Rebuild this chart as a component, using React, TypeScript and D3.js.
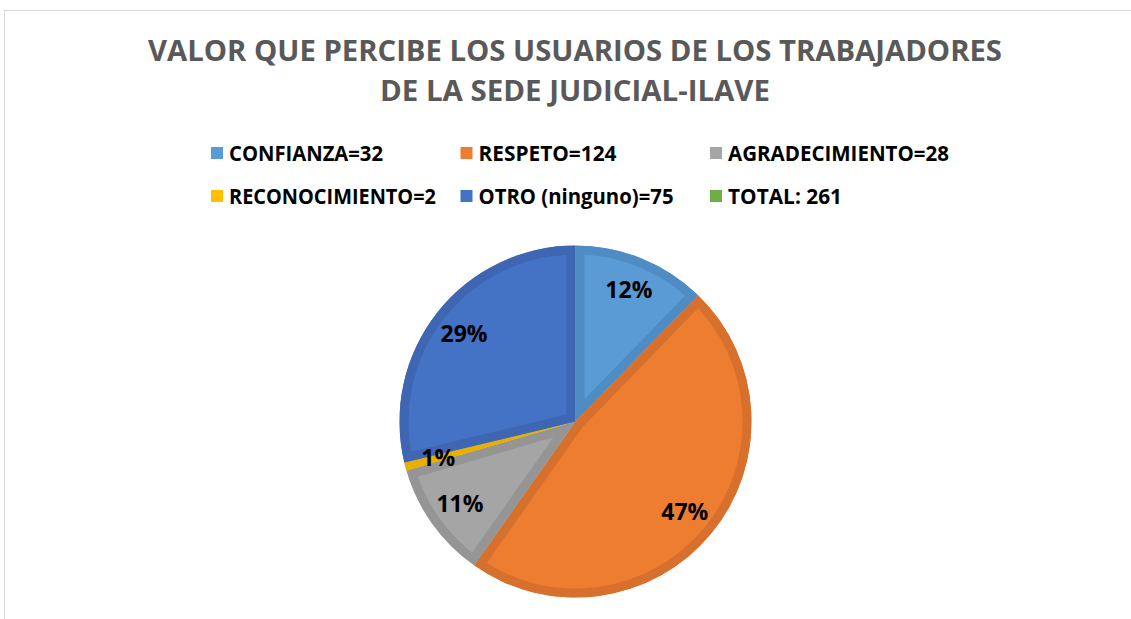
import React, { useEffect, useRef } from 'react';
import * as d3 from 'd3';

const titleLines = ['VALOR QUE PERCIBE LOS USUARIOS DE LOS TRABAJADORES', 'DE LA SEDE JUDICIAL-ILAVE'];
const categories = ['CONFIANZA', 'RESPETO', 'AGRADECIMIENTO', 'RECONOCIMIENTO', 'OTRO (ninguno)', 'TOTAL'];
const values = [32, 124, 28, 2, 75, 0];
const legendLabels = ['CONFIANZA=32', 'RESPETO=124', 'AGRADECIMIENTO=28', 'RECONOCIMIENTO=2', 'OTRO (ninguno)=75', 'TOTAL: 261'];
const fills = ['#5b9bd5', '#ed7d31', '#a5a5a5', '#ffc000', '#4472c4', '#70ad47'];
const borders = ['#4f8cc4', '#d8702d', '#959595', '#e8ae00', '#3e66b2', '#66a040'];

const W = 1131;
const H = 619;

// percentages rounded so they add up to 100 (largest remainder, like Excel)
const roundedPercents = (vals: number[]) => {
  const total = d3.sum(vals);
  const raw = vals.map((v) => (v / total) * 100);
  const out = raw.map(Math.floor);
  let left = 100 - d3.sum(out);
  const order = d3.range(vals.length).sort((a, b) => (raw[b] - out[b]) - (raw[a] - out[a]));
  for (const i of order) {
    if (left <= 0) break;
    if (vals[i] > 0) { out[i] += 1; left -= 1; }
  }
  return out;
};

const App = () => {
  const ref = useRef(null);

  useEffect(() => {
    const root = d3.select(ref.current);
    root.selectAll('*').remove();
    const svg = root
      .append('svg')
      .attr('width', W)
      .attr('height', H)
      .style('position', 'absolute')
      .style('left', 0)
      .style('top', 0)
      .style('font-family', '"Open Sans", sans-serif');

    svg.append('rect').attr('width', W).attr('height', H).attr('fill', '#fff');
    // chart frame (runs off the right and bottom)
    svg.append('rect')
      .attr('x', 4.5).attr('y', 10.5)
      .attr('width', W + 20).attr('height', H + 20)
      .attr('fill', 'none').attr('stroke', '#d9d9d9');

    // title
    const titleWidths = [854, 390];
    svg.selectAll('text.title')
      .data(titleLines)
      .enter()
      .append('text')
      .attr('class', 'title')
      .attr('x', 575)
      .attr('y', (d, i) => 61 + i * 40)
      .attr('text-anchor', 'middle')
      .attr('font-size', 29)
      .attr('font-weight', 700)
      .attr('fill', '#595959')
      .attr('textLength', (d, i) => titleWidths[i])
      .attr('lengthAdjust', 'spacingAndGlyphs')
      .text((d) => d);

    // legend
    const colX = d3.scaleLinear().domain([0, 2]).range([211, 710]);
    const rowY = d3.scaleLinear().domain([0, 1]).range([161, 204]);
    const legendWidths = [154, 138, 221, 207, 195, 114];
    const item = svg.selectAll('g.legend')
      .data(legendLabels)
      .enter()
      .append('g')
      .attr('class', 'legend')
      .attr('transform', (d, i) => `translate(${colX(i % 3)},${rowY(Math.floor(i / 3))})`);
    item.append('rect')
      .attr('x', 0).attr('y', -14)
      .attr('width', 12).attr('height', 12)
      .attr('fill', (d, i) => fills[i]);
    item.append('text')
      .attr('x', 18)
      .attr('font-size', 21)
      .attr('font-weight', 700)
      .attr('fill', '#000')
      .attr('textLength', (d, i) => legendWidths[i])
      .attr('lengthAdjust', 'spacingAndGlyphs')
      .text((d) => d);

    // pie
    const cx = 575.5;
    const cy = 421.5;
    const R = 176;
    const bw = 9;
    const pcts = roundedPercents(values);
    const pie = d3.pie<number>().sort(null).value((d) => d);
    const arcs = pie(values).map((a, i) => ({ ...a, i })).filter((a) => a.value > 0);
    const arc = d3.arc<any>().innerRadius(0).outerRadius(R);
    const labelArc = d3.arc<any>().innerRadius(142).outerRadius(142);

    const g = svg.append('g').attr('transform', `translate(${cx},${cy})`);
    const defs = svg.append('defs');
    arcs.forEach((a) => {
      defs.append('clipPath').attr('id', `clip${a.i}`).append('path').attr('d', arc(a));
    });

    const slice = g.selectAll('g.slice').data(arcs).enter().append('g').attr('class', 'slice');
    slice.append('path')
      .attr('d', arc)
      .attr('fill', (d) => fills[d.i]);
    slice.append('path')
      .attr('d', arc)
      .attr('fill', 'none')
      .attr('stroke', (d) => borders[d.i])
      .attr('stroke-width', bw * 2)
      .attr('stroke-linejoin', 'miter')
      .attr('clip-path', (d) => `url(#clip${d.i})`);

    g.selectAll('text.pct')
      .data(arcs)
      .enter()
      .append('text')
      .attr('class', 'pct')
      .attr('transform', (d) => `translate(${labelArc.centroid(d)})`)
      .attr('text-anchor', 'middle')
      .attr('dy', '0.36em')
      .attr('font-size', 23)
      .attr('font-weight', 700)
      .attr('fill', '#000')
      .text((d) => `${pcts[d.i]}%`);
  }, []);

  return <div ref={ref} />;
};

export default App;
